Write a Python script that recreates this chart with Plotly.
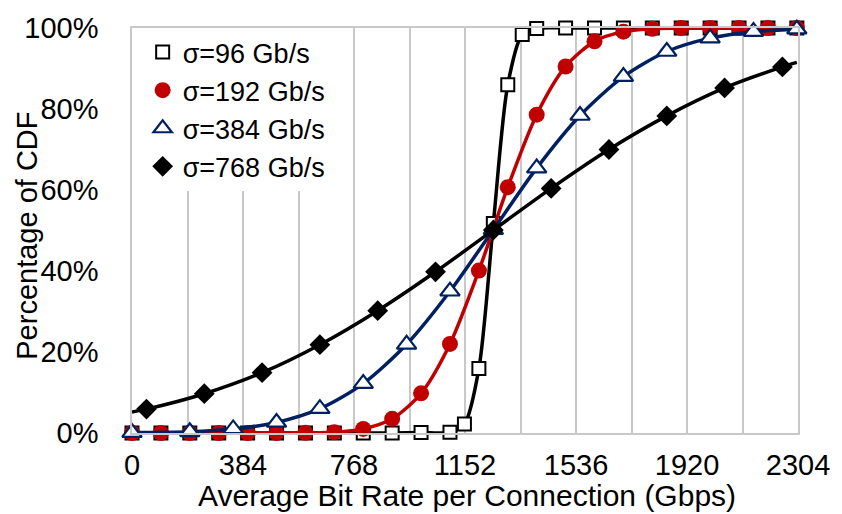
import plotly.graph_objects as go

# ---- data (percent of CDF) ----
x_tick_vals = [0, 384, 768, 1152, 1536, 1920, 2304]
x_tick_text = ["0", "384", "768", "1152", "1536", "1920", "2304"]
grid_step = 192
y_tick_vals = [0, 20, 40, 60, 80, 100]
y_tick_text = ["0%", "20%", "40%", "60%", "80%", "100%"]

names = ["σ=96 Gb/s", "σ=192 Gb/s", "σ=384 Gb/s", "σ=768 Gb/s"]

x96 = [0, 100, 200, 300, 400, 500, 600, 700, 800, 900, 1000, 1100, 1150, 1200,
       1250, 1300, 1350, 1400, 1500, 1600, 1700, 1800, 1900, 2000, 2100, 2200, 2300]
y96 = [0, 0, 0, 0, 0, 0, 0, 0, 0, 0, 0.1, 0.2, 2.2, 15.9,
       51.7, 86.0, 98.4, 99.9, 100, 100, 100, 100, 100, 100, 100, 100, 100]

x192 = [0, 100, 200, 300, 400, 500, 600, 700, 800, 900, 1000, 1100, 1200,
        1300, 1400, 1500, 1600, 1700, 1800, 1900, 2000, 2100, 2200, 2300]
y192 = [0, 0, 0, 0, 0, 0, 0.05, 0.2, 1.0, 3.5, 9.8, 22.0, 40.1,
        60.7, 78.6, 90.5, 96.7, 99.1, 99.8, 100, 100, 100, 100, 100]

x384 = [0, 200, 350, 500, 650, 800, 950, 1100, 1250, 1400, 1550, 1700,
        1850, 2000, 2150, 2300]
y384 = [0.1, 0.3, 1.0, 2.6, 6.0, 12.2, 21.9, 35.0, 50.2, 65.4, 78.4, 88.0,
        94.2, 97.5, 99.1, 99.7]

# line of σ=768 runs from 0 to 2300; markers only at the inner points
x768_line = [0, 50, 250, 450, 650, 850, 1050, 1250, 1450, 1650, 1850, 2050, 2250, 2300]
y768_line = [5.2, 5.9, 9.7, 14.9, 21.8, 30.2, 39.8, 50.1, 60.4, 70.0, 78.3, 85.2, 90.4, 91.5]
x768 = x768_line[1:-1]
y768 = y768_line[1:-1]

RED = "#C00000"
NAVY = "#002060"
BLACK = "#000000"
FONT = "Liberation Sans, Arial, sans-serif"

fig = go.Figure()

series = [
    (x96, y96, x96, y96, BLACK,
     dict(symbol="square", size=13, color="white", line=dict(color=BLACK, width=2))),
    (x192, y192, x192, y192, RED,
     dict(symbol="circle", size=16, color=RED, line=dict(color=RED, width=0))),
    (x384, y384, x384, y384, NAVY,
     dict(symbol="triangle-up", size=17, color="white", line=dict(color=NAVY, width=2.2))),
    (x768_line, y768_line, x768, y768, BLACK,
     dict(symbol="diamond", size=16, color=BLACK, line=dict(color=BLACK, width=0))),
]

for name, (xl, yl, xm, ym, col, mk) in zip(names, series):
    fig.add_trace(go.Scatter(
        x=xl, y=yl, mode="lines", line=dict(color=col, width=3.5, shape="spline", smoothing=0.8),
        showlegend=False, hoverinfo="skip", cliponaxis=False))
    fig.add_trace(go.Scatter(
        x=xm, y=ym, mode="markers", marker=mk, name=name,
        showlegend=True, cliponaxis=False))

grid_vals = list(range(0, 2304 + 1, grid_step))

fig.update_layout(
    width=842, height=514,
    margin=dict(l=132, r=36, t=27, b=81),
    paper_bgcolor="white", plot_bgcolor="white",
    font=dict(family=FONT, size=29, color="#000000"),
    legend=dict(
        x=0.016, y=1.0, xanchor="left", yanchor="top",
        bgcolor="white", borderwidth=0,
        font=dict(family=FONT, size=27),
        itemwidth=30, tracegroupgap=0,
    ),
    xaxis=dict(
        range=[0, 2304], tickmode="array", tickvals=x_tick_vals, ticktext=x_tick_text,
        showgrid=False, zeroline=False,
        showline=True, mirror=True, linecolor="#C8C8C8", linewidth=1.5,
        ticks="", ticklabelstandoff=5,
        tickfont=dict(family=FONT, size=29),
        minor=dict(tickmode="array", tickvals=grid_vals, showgrid=True,
                   gridcolor="#C8C8C8", gridwidth=1.5, ticks=""),
    ),
    yaxis=dict(
        range=[0, 100], tickmode="array", tickvals=y_tick_vals, ticktext=y_tick_text,
        showgrid=False, zeroline=False,
        showline=True, mirror=True, linecolor="#C8C8C8", linewidth=1.5,
        ticks="", ticklabelstandoff=26,
        tickfont=dict(family=FONT, size=29),
    ),
    annotations=[
        dict(text="Average Bit Rate per Connection (Gbps)", xref="paper", yref="paper",
             x=(471 - 132) / 674, y=(433 - 496) / 406, xanchor="center", yanchor="middle",
             showarrow=False, font=dict(family=FONT, size=30)),
        dict(text="Percentage of CDF", xref="paper", yref="paper",
             x=(26 - 132) / 674, y=(433 - 235) / 406, xanchor="center", yanchor="middle",
             textangle=-90, showarrow=False, font=dict(family=FONT, size=29)),
    ],
)

fig.write_html("out.html")
